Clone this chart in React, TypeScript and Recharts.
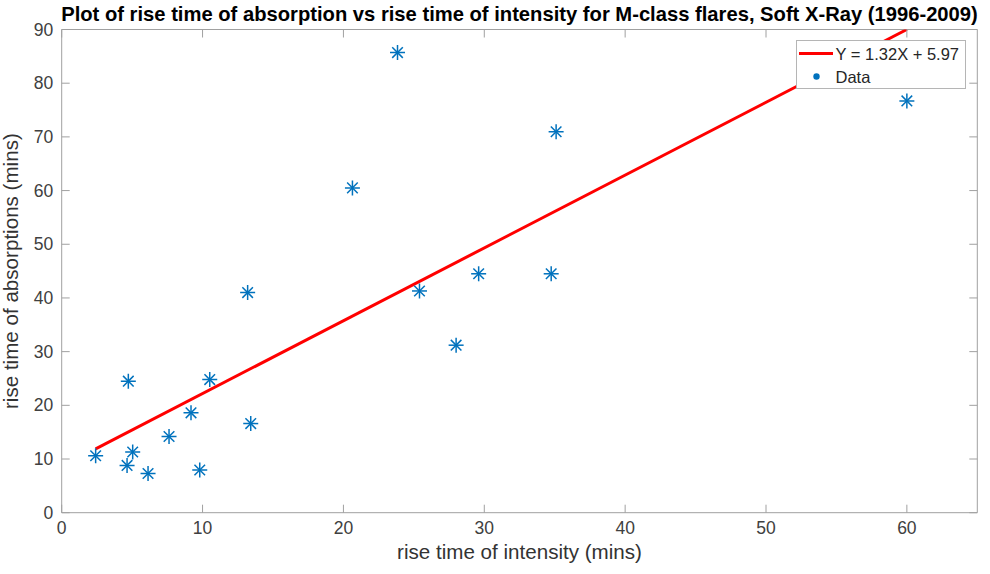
import React from 'react';
import { ScatterChart, Scatter, XAxis, YAxis, Legend } from 'recharts';

// ---- data ----
const xValues = [2.41, 4.64, 4.73, 5.04, 6.13, 7.62, 9.18, 9.8, 10.51, 13.2, 13.42, 20.64, 23.84, 25.4, 28.0, 29.6, 34.75, 35.1, 60.0];
const yValues = [10.6, 8.8, 24.5, 11.3, 7.3, 14.2, 18.6, 7.95, 24.8, 41.0, 16.6, 60.5, 85.7, 41.3, 31.2, 44.5, 44.5, 70.95, 76.7];
const fitX = [2.41, 60];
const fitY = [11.9, 90];
const xTicks = [0, 10, 20, 30, 40, 50, 60];
const yTicks = [0, 10, 20, 30, 40, 50, 60, 70, 80, 90];
const xDomain = [0, 65];
const yDomain = [0, 90];
const titleText = 'Plot of rise time of absorption vs rise time of intensity for M-class flares, Soft X-Ray (1996-2009)';
const xLabelText = 'rise time of intensity (mins)';
const yLabelText = 'rise time of absorptions (mins)';
const fitLabel = 'Y = 1.32X + 5.97';
const dataLabel = 'Data';

const dataPoints = xValues.map((x, i) => ({ x, y: yValues[i] }));
const fitPoints = fitX.map((x, i) => ({ x, y: fitY[i] }));

const FONT = '"Liberation Sans", Arial, Helvetica, sans-serif';
const AXIS_COLOR = '#a0a0a0';
const TICK_TEXT = '#404040';
const LABEL_TEXT = '#333333';
const BLUE = '#0072BD';
const RED = '#FF0000';
const TICK_LEN = 8;

const BottomTick = (props: any) => {
  const { x, y, payload } = props;
  return (
    <g>
      <line x1={x} y1={y} x2={x} y2={y - TICK_LEN} stroke={AXIS_COLOR} strokeWidth={1} />
      <text x={x} y={y + 21} textAnchor="middle" fill={TICK_TEXT} fontSize={17.5} fontFamily={FONT}>
        {payload.value}
      </text>
    </g>
  );
};
const TopTick = (props: any) => {
  const { x, y } = props;
  return <line x1={x} y1={y} x2={x} y2={y + TICK_LEN} stroke={AXIS_COLOR} strokeWidth={1} />;
};
const LeftTick = (props: any) => {
  const { x, y, payload } = props;
  return (
    <g>
      <line x1={x} y1={y} x2={x + TICK_LEN} y2={y} stroke={AXIS_COLOR} strokeWidth={1} />
      <text x={x - 8.5} y={y + 6} textAnchor="end" fill={TICK_TEXT} fontSize={17.5} fontFamily={FONT}>
        {payload.value}
      </text>
    </g>
  );
};
const RightTick = (props: any) => {
  const { x, y } = props;
  return <line x1={x} y1={y} x2={x - TICK_LEN} y2={y} stroke={AXIS_COLOR} strokeWidth={1} />;
};

const Star = (props: any) => {
  const { cx, cy } = props;
  const r = 7.5;
  const d = 5.3;
  return (
    <g stroke={BLUE} strokeWidth={1.5}>
      <line x1={cx - r} y1={cy} x2={cx + r} y2={cy} />
      <line x1={cx} y1={cy - r} x2={cx} y2={cy + r} />
      <line x1={cx - d} y1={cy - d} x2={cx + d} y2={cy + d} />
      <line x1={cx - d} y1={cy + d} x2={cx + d} y2={cy - d} />
    </g>
  );
};
const NoShape = () => <g />;

const LegendBox = () => (
  <svg width={171} height={50} style={{ display: 'block' }}>
    <rect x={0.5} y={0.5} width={169} height={48} fill="#ffffff" stroke="#b5b5b5" strokeWidth={1} />
    <line x1={3} y1={13.5} x2={37} y2={13.5} stroke={RED} strokeWidth={3} />
    <text x={39.5} y={19.5} fill="#262626" fontSize={16.5} fontFamily={FONT}>{fitLabel}</text>
    <circle cx={20.5} cy={36.5} r={3.2} fill={BLUE} />
    <text x={39.5} y={42.5} fill="#262626" fontSize={16.5} fontFamily={FONT}>{dataLabel}</text>
  </svg>
);

const TitleLabel = (props: any) => {
  const { viewBox } = props;
  const cx = viewBox.x + viewBox.width / 2;
  const by = viewBox.y + viewBox.height;
  return (
    <text x={cx} y={by - 9} textAnchor="middle" fill="#000000" fontSize={20.2} fontWeight="bold" fontFamily={FONT}>
      {titleText}
    </text>
  );
};
const XLabel = (props: any) => {
  const { viewBox } = props;
  const cx = viewBox.x + viewBox.width / 2;
  return (
    <text x={cx} y={viewBox.y + 46.5} textAnchor="middle" fill={LABEL_TEXT} fontSize={20.6} fontFamily={FONT}>
      {xLabelText}
    </text>
  );
};
const YLabel = (props: any) => {
  const { viewBox } = props;
  const cy = viewBox.y + viewBox.height / 2;
  const bx = 18;
  return (
    <text x={bx} y={cy} textAnchor="middle" fill={LABEL_TEXT} fontSize={20.6} fontFamily={FONT} transform={`rotate(-90, ${bx}, ${cy})`}>
      {yLabelText}
    </text>
  );
};

const axisCommon = {
  type: 'number' as const,
  axisLine: { stroke: AXIS_COLOR, strokeWidth: 1 },
  tickLine: false,
  tickSize: 0,
  tickMargin: 0,
  allowDataOverflow: true,
  interval: 0 as const,
};

export default function App() {
  return (
    <div style={{ position: 'absolute', left: 0, top: 0, width: 990, height: 574, background: '#ffffff' }}>
      <ScatterChart width={990} height={574} margin={{ top: 28.5, right: 11.7, bottom: 0, left: 0 }}>
        <XAxis {...axisCommon} xAxisId="b" dataKey="x" domain={xDomain} ticks={xTicks} orientation="bottom" height={61.3} tick={<BottomTick />} label={<XLabel />} />
        <XAxis {...axisCommon} xAxisId="t" dataKey="x" domain={xDomain} ticks={xTicks} orientation="top" height={1} tick={<TopTick />} label={<TitleLabel />} />
        <YAxis {...axisCommon} yAxisId="l" dataKey="y" domain={yDomain} ticks={yTicks} orientation="left" width={61.7} tick={<LeftTick />} label={<YLabel />} />
        <YAxis {...axisCommon} yAxisId="r" dataKey="y" domain={yDomain} ticks={yTicks} orientation="right" width={1} tick={<RightTick />} />
        <Scatter
          name={fitLabel}
          data={fitPoints}
          xAxisId="t"
          yAxisId="r"
          line={{ stroke: RED, strokeWidth: 3 }}
          shape={<NoShape />}
          isAnimationActive={false}
        />
        <Scatter
          name={dataLabel}
          data={dataPoints}
          xAxisId="b"
          yAxisId="l"
          shape={<Star />}
          isAnimationActive={false}
        />
        <Legend
          layout="horizontal"
          verticalAlign="middle"
          align="center"
          content={<LegendBox />}
          wrapperStyle={{ position: 'absolute', left: 796, top: 40, width: 171, height: 50, margin: 0, padding: 0 }}
        />
      </ScatterChart>
    </div>
  );
}
